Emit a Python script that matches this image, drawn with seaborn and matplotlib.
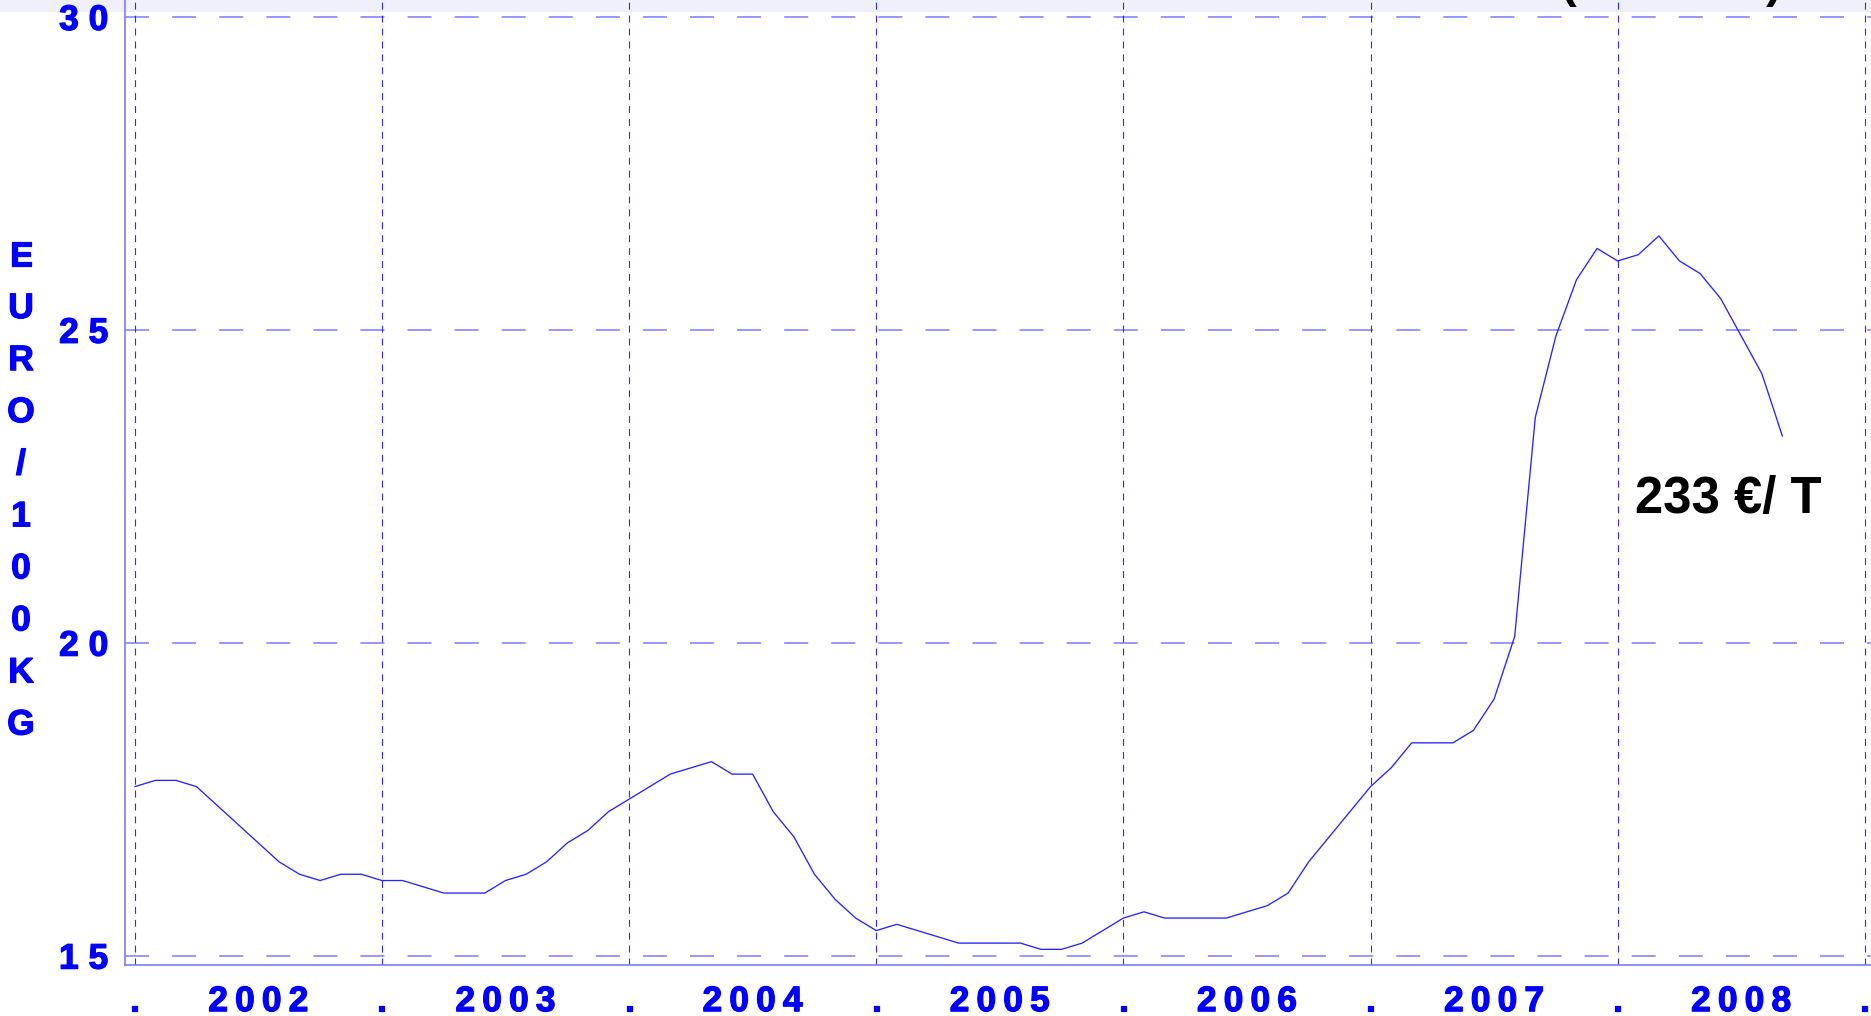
import numpy as np
import pandas as pd
import matplotlib
matplotlib.use("Agg")
import matplotlib.pyplot as plt
import matplotlib.patheffects as pe
from matplotlib.patches import Rectangle
import seaborn as sns

# ---------------- data (EURO / 100 KG, monthly, Jan 2002 .. Sep 2008) ----------------
years = [2002, 2003, 2004, 2005, 2006, 2007, 2008]
prices_2002 = [17.7, 17.8, 17.8, 17.7, 17.4, 17.1, 16.8, 16.5, 16.3, 16.2, 16.3, 16.3]
prices_2003 = [16.2, 16.2, 16.1, 16.0, 16.0, 16.0, 16.2, 16.3, 16.5, 16.8, 17.0, 17.3]
prices_2004 = [17.5, 17.7, 17.9, 18.0, 18.1, 17.9, 17.9, 17.3, 16.9, 16.3, 15.9, 15.6]
prices_2005 = [15.4, 15.5, 15.4, 15.3, 15.2, 15.2, 15.2, 15.2, 15.1, 15.1, 15.2, 15.4]
prices_2006 = [15.6, 15.7, 15.6, 15.6, 15.6, 15.6, 15.7, 15.8, 16.0, 16.5, 16.9, 17.3]
prices_2007 = [17.7, 18.0, 18.4, 18.4, 18.4, 18.6, 19.1, 20.1, 23.6, 24.9, 25.8, 26.3]
prices_2008 = [26.1, 26.2, 26.5, 26.1, 25.9, 25.5, 24.9, 24.3, 23.3]

y_ticks = [15, 20, 25, 30]
y_tick_labels = ["1 5", "2 0", "2 5", "3 0"]
y_label = "EURO/100KG"
annotation = "233 €/ T"

prices = (prices_2002 + prices_2003 + prices_2004 + prices_2005
          + prices_2006 + prices_2007 + prices_2008)
df = pd.DataFrame({"month": np.arange(len(prices)), "price": prices})

# ---------------- style ----------------
sns.set_style("white")
plt.rcParams["font.family"] = ["Liberation Sans", "DejaVu Sans"]
plt.rcParams["font.weight"] = "bold"
plt.rcParams["lines.scale_dashes"] = False

W, H = 1871, 1016
BLUE = "#0000ff"
LIGHT = "#7b7bff"
TICKC = "#4a4aff"
FS = 25.5
blue_fx = [pe.withStroke(linewidth=0.9, foreground=BLUE)]

fig = plt.figure(figsize=(W / 100, H / 100), dpi=100)
fig.patch.set_facecolor("white")
fig.add_artist(Rectangle((0, 1 - 12 / H), 1, 12 / H, transform=fig.transFigure,
                         facecolor="#f0f0fc", edgecolor="none", zorder=-5))

ax = fig.add_axes([125.3 / W, 1 - 965 / H, 1 - 125.3 / W, 965 / H])
ax.set_facecolor("none")

sns.lineplot(data=df, x="month", y="price", ax=ax, color="#2424ff",
             linewidth=0.95, zorder=3)

ax.set_xlim(-0.46, 84.3)
ax.set_ylim(14.85, 30.27)

# grid lines
for yv in y_ticks:
    ax.axhline(yv, color=LIGHT, lw=1.1, dashes=(17.3, 16.6), zorder=1)
n_years = len(years)
boundaries = [12 * i for i in range(n_years + 1)]
for b in boundaries:
    ax.axvline(b, color="#2a2aff", lw=0.8, dashes=(5.0, 4.3), zorder=1)

# spines
for s in ["top", "right"]:
    ax.spines[s].set_visible(False)
for s in ["left", "bottom"]:
    ax.spines[s].set_color(LIGHT)
    ax.spines[s].set_linewidth(1.2)

# x ticks: "." at year boundaries, letter-spaced year at mid-year
THIN = "\u2009"
mids = [12 * i + 6 for i in range(n_years)]
pos = sorted(boundaries + mids)
labels = []
for p in pos:
    if p % 12 == 0:
        labels.append(".")
    else:
        labels.append(THIN.join(str(years[p // 12])))
ax.set_xticks(pos, labels)
ax.set_xticks(np.arange(0, 85), minor=True)
ax.tick_params(axis="x", which="major", direction="out", length=6.5, width=0.8,
               color=TICKC, pad=8.0, labelsize=FS, labelcolor=BLUE)
ax.tick_params(axis="x", which="minor", direction="out", length=3.6, width=0.8,
               color=TICKC)

ax.set_yticks(y_ticks, y_tick_labels)
ax.set_yticks([17.5, 22.5, 27.5], minor=True)
ax.tick_params(axis="y", which="major", direction="out", length=7.2, width=1.0,
               color=LIGHT, pad=5.0, labelsize=FS, labelcolor=BLUE)
ax.tick_params(axis="y", which="minor", direction="out", length=3.6, width=0.8,
               color=TICKC)
for lbl in ax.get_xticklabels() + ax.get_yticklabels():
    lbl.set_fontweight("bold")
    lbl.set_path_effects(blue_fx)
ax.set_xlabel("")
ax.set_ylabel("")

# stacked y label
for i, ch in enumerate(y_label):
    fig.text(21 / W, 1 - (266 + i * 52.06) / H, ch, ha="center", va="baseline",
             fontsize=FS, fontweight="bold", color=BLUE, path_effects=blue_fx)

# annotation
ax.text(72.84, 22.07, annotation, ha="left", va="baseline", fontsize=36.5,
        fontweight="bold", color="black", zorder=4)

# cut-off title parentheses at very top (only their lower ends are visible)
fig.text(1561 / W, 1 + 3 / H, "(", ha="left", va="baseline", fontsize=34,
         fontweight="bold", color="black")
fig.text(1766 / W, 1 + 3 / H, ")", ha="left", va="baseline", fontsize=34,
         fontweight="bold", color="black")

fig.savefig("out.png", dpi=100)
